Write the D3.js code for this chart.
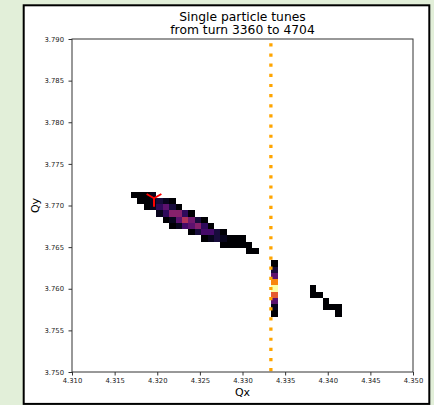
<!DOCTYPE html>
<html>
<head>
<meta charset="utf-8">
<script src="https://cdn.jsdelivr.net/npm/d3@7"></script>
<style>
  html, body { margin: 0; padding: 0; background: #e2efd9; }
  svg { display: block; }
</style>
</head>
<body>
<svg id="chart" width="434" height="405"></svg>
<script>
// ---- data -------------------------------------------------------------
const titleLines = ["Single particle tunes", "from turn 3360 to 4704"];
const xTicks = [4.310, 4.315, 4.320, 4.325, 4.330, 4.335, 4.340, 4.345, 4.350];
const yTicks = [3.750, 3.755, 3.760, 3.765, 3.770, 3.775, 3.780, 3.785, 3.790];
const xDomain = [4.310, 4.350];
const yDomain = [3.750, 3.790];

// 2D histogram of tunes, stored as runs of adjacent bins along Qx.
// runQy: lower Qy edge of the run, runQx: left Qx edge of its first bin.
const binWidth = 0.00075;
const runQy = [
  3.77090, 3.77015, 3.76940, 3.76865, 3.76790, 3.76715, 3.76640, 3.76565, 3.76490, 3.76415,
  3.76265, 3.76190, 3.76115, 3.76040, 3.75965, 3.75890, 3.75815, 3.75740, 3.75665,
  3.75965, 3.75890, 3.75815, 3.75740, 3.75665
];
const runQx = [
  4.31690, 4.31765, 4.31840, 4.31990, 4.32065, 4.32140, 4.32365, 4.32515, 4.32740, 4.33040,
  4.33340, 4.33340, 4.33340, 4.33340, 4.33340, 4.33340, 4.33340, 4.33340, 4.33340,
  4.33790, 4.33790, 4.33940, 4.33940, 4.34090
];
const runCounts = [
  [1, 1, 1, 2],
  [1, 1, 2, 3, 2, 1],
  [1, 2, 4, 6, 3, 1],
  [2, 4, 8, 8, 4, 1],
  [1, 2, 6, 10, 7, 3, 1],
  [1, 2, 5, 6, 8, 4, 1],
  [1, 3, 5, 5, 3, 1],
  [1, 2, 3, 2, 1, 1, 1],
  [1, 1, 1, 1, 1],
  [1, 1],
  [1], [3], [6], [15], [20], [13], [6], [2], [1],
  [1],
  [1, 1],
  [1],
  [1, 1, 1],
  [1]
];

const resonanceQx = 4.33333;        // 3 Qx = 13
const centroid = { qx: 4.31962, qy: 3.77087 };

// ---- layout -----------------------------------------------------------
const svg = d3.select("#chart");
const plot = { left: 72, right: 413, top: 39, bottom: 372 };

const x = d3.scaleLinear().domain(xDomain).range([plot.left, plot.right]);
const y = d3.scaleLinear().domain(yDomain).range([plot.bottom, plot.top]);
const color = d3.scaleSequential(d3.interpolateInferno).domain([1, 20]);

// figure panel
svg.append("rect")
  .attr("x", 23.7).attr("y", 5.3)
  .attr("width", 405.6).attr("height", 398.6)
  .attr("fill", "#ffffff")
  .attr("stroke", "#000000").attr("stroke-width", 2);

// title
svg.append("g").selectAll("text").data(titleLines).join("text")
  .attr("x", (plot.left + plot.right) / 2)
  .attr("y", (d, i) => 20.7 + i * 13.6)
  .attr("text-anchor", "middle")
  .attr("font-family", "DejaVu Sans, sans-serif")
  .attr("font-size", 12.3)
  .attr("fill", "#000")
  .text(d => d);

// histogram bins
const cells = [];
runQy.forEach((qy, i) => {
  runCounts[i].forEach((c, j) => {
    cells.push({ qx: runQx[i] + j * binWidth, qy: qy, count: c });
  });
});

svg.append("g")
  .attr("shape-rendering", "crispEdges")
  .selectAll("rect").data(cells).join("rect")
  .attr("x", d => x(d.qx))
  .attr("y", d => y(d.qy + binWidth))
  .attr("width", d => x(d.qx + binWidth) - x(d.qx))
  .attr("height", d => y(d.qy) - y(d.qy + binWidth))
  .attr("fill", d => color(d.count));

// third-order resonance line
svg.append("line")
  .attr("x1", x(resonanceQx)).attr("x2", x(resonanceQx))
  .attr("y1", plot.top).attr("y2", plot.bottom)
  .attr("stroke", "#ffa500")
  .attr("stroke-width", 3.3)
  .attr("stroke-dasharray", "3.2,6.95")
  .attr("stroke-dashoffset", 5.85);

// beam centroid tune (tri-down marker)
const r = 8.5;
const cx = x(centroid.qx), cy = y(centroid.qy);
const arms = [[0, r], [-r * 0.866, -r * 0.5], [r * 0.866, -r * 0.5]];
svg.append("path")
  .attr("d", arms.map(a => `M${cx},${cy}L${cx + a[0]},${cy + a[1]}`).join(""))
  .attr("stroke", "#ff0000")
  .attr("stroke-width", 2)
  .attr("fill", "none");

// axes
const tickFmt = d3.format(".3f");
const xAxis = svg.append("g")
  .attr("transform", `translate(0,${plot.bottom})`)
  .call(d3.axisBottom(x).tickValues(xTicks).tickFormat(tickFmt)
    .tickSize(3.5).tickSizeOuter(0).tickPadding(2.5));
const yAxis = svg.append("g")
  .attr("transform", `translate(${plot.left},0)`)
  .call(d3.axisLeft(y).tickValues(yTicks).tickFormat(tickFmt)
    .tickSize(3.5).tickSizeOuter(0).tickPadding(4.5));

[xAxis, yAxis].forEach(g => {
  g.select(".domain").remove();
  g.selectAll(".tick line").attr("stroke", "#333");
  g.selectAll(".tick text")
    .attr("font-family", "DejaVu Sans, sans-serif")
    .attr("font-size", 6.8)
    .attr("fill", "#222");
});

// frame
svg.append("rect")
  .attr("x", plot.left).attr("y", plot.top)
  .attr("width", plot.right - plot.left)
  .attr("height", plot.bottom - plot.top)
  .attr("fill", "none")
  .attr("stroke", "#333")
  .attr("stroke-width", 1);

// axis labels
svg.append("text")
  .attr("x", (plot.left + plot.right) / 2).attr("y", 396)
  .attr("text-anchor", "middle")
  .attr("font-family", "DejaVu Sans, sans-serif")
  .attr("font-size", 11)
  .attr("fill", "#000")
  .text("Qx");

svg.append("text")
  .attr("transform", `translate(38.5,${(plot.top + plot.bottom) / 2}) rotate(-90)`)
  .attr("text-anchor", "middle")
  .attr("font-family", "DejaVu Sans, sans-serif")
  .attr("font-size", 11)
  .attr("fill", "#000")
  .text("Qy");
</script>
</body>
</html>
